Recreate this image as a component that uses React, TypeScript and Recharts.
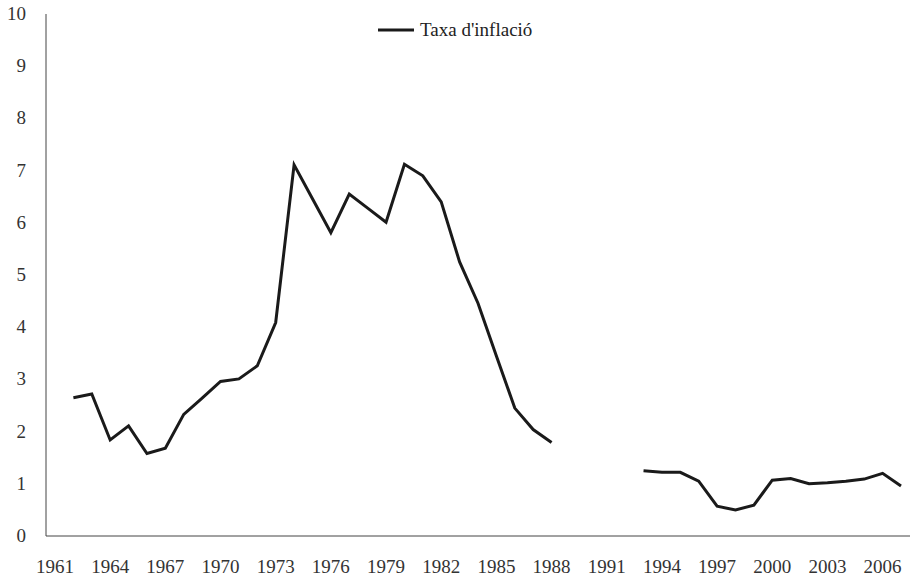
import { LineChart, Line, XAxis, YAxis, Legend } from "recharts";

const years = [
    1961, 1962, 1963, 1964, 1965, 1966, 1967, 1968, 1969, 1970,
    1971, 1972, 1973, 1974, 1975, 1976, 1977, 1978, 1979, 1980,
    1981, 1982, 1983, 1984, 1985, 1986, 1987, 1988, 1989, 1990,
    1991, 1992, 1993, 1994, 1995, 1996, 1997, 1998, 1999, 2000,
    2001, 2002, 2003, 2004, 2005, 2006, 2007,
];

// Taxa d'inflació (null = sense dada)
const inflation = [
    null, 2.65, 2.72, 1.84, 2.11, 1.58, 1.68, 2.33, 2.64, 2.96,
    3.01, 3.26, 4.09, 7.11, 6.46, 5.81, 6.55, 6.28, 6.01, 7.12,
    6.9, 6.4, 5.25, 4.46, 3.45, 2.45, 2.04, 1.79, null, null,
    null, null, 1.25, 1.22, 1.22, 1.05, 0.57, 0.5, 0.59, 1.07,
    1.1, 1.0, 1.02, 1.05, 1.09, 1.2, 0.96,
];

const yTicks = [0, 1, 2, 3, 4, 5, 6, 7, 8, 9, 10];

const data = years.map((y, i) => ({ year: String(y), inflacio: inflation[i] }));

const font = "'Liberation Serif', 'Times New Roman', serif";

const XTick = ({ x, y, payload }: any) => (
    <text x={x} y={y + 29} textAnchor="middle" fill="#333" fontFamily={font} fontSize={19}>
        {payload.value}
    </text>
);

const YTick = ({ x, y, payload }: any) => (
    <text x={x - 12} y={y + 6} textAnchor="end" fill="#333" fontFamily={font} fontSize={19}>
        {payload.value}
    </text>
);

// zero-height box so the legend takes no room from the plot
const LegendBox = () => (
    <div style={{ height: 0, overflow: "visible" }}>
        <div style={{ display: "flex", alignItems: "center", fontFamily: font, fontSize: 19, color: "#222" }}>
            <svg width={36} height={10} style={{ marginRight: 6 }}>
                <line x1={0} y1={5} x2={36} y2={5} stroke="#1a1a1a" strokeWidth={3} />
            </svg>
            <span>Taxa d'inflació</span>
        </div>
    </div>
);

export default function App() {
    return (
        <div style={{ position: "absolute", left: 0, top: 0, background: "#fff", fontFamily: font }}>
            <LineChart
                width={910}
                height={580}
                data={data}
                margin={{ top: 14, right: 0, left: 0, bottom: 0 }}
            >
                <XAxis
                    dataKey="year"
                    interval={2}
                    height={44}
                    padding={{ left: 9, right: 9 }}
                    tickLine={false}
                    stroke="#444"
                    tick={<XTick />}
                />
                <YAxis
                    width={46}
                    domain={[0, 10]}
                    ticks={yTicks}
                    tickLine={false}
                    stroke="#444"
                    tick={<YTick />}
                />
                <Legend
                    content={<LegendBox />}
                    wrapperStyle={{ top: 19, left: 378, width: "auto", height: 0 }}
                />
                <Line
                    type="linear"
                    dataKey="inflacio"
                    stroke="#1a1a1a"
                    strokeWidth={3}
                    dot={false}
                    activeDot={false}
                    isAnimationActive={false}
                />
            </LineChart>
        </div>
    );
}
